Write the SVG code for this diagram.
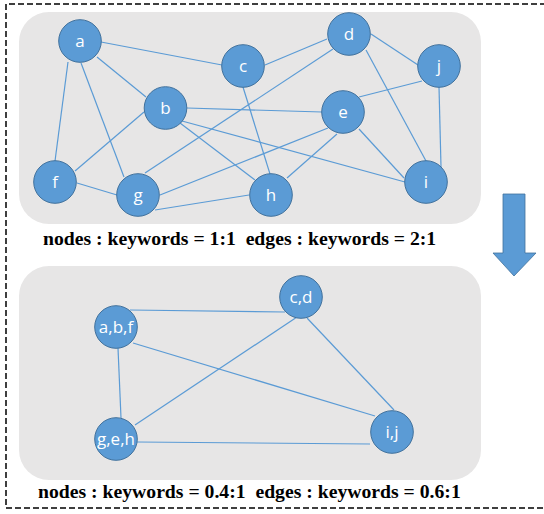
<svg xmlns="http://www.w3.org/2000/svg" width="544" height="514" viewBox="0 0 544 514">
<style>
.panel{fill:#E7E6E6;stroke:none}
.node circle{fill:#5B9BD5;stroke:#41719C;stroke-width:1}
.node text{fill:#ffffff;font-family:"Open Sans","Noto Sans",sans-serif;font-size:17px;text-anchor:middle}
.edges line{stroke:#5B9BD5;stroke-width:1.2}
.cap{font-family:"Liberation Serif","DejaVu Serif",serif;font-weight:bold;font-size:19.7px;fill:#000}
</style>
<rect width="544" height="514" fill="#ffffff"/>
<path d="M546 4 H6 V508 H546" fill="none" stroke="#000" stroke-width="1.5" stroke-dasharray="6 3"/>
<rect class="panel" x="19" y="12" width="462" height="212" rx="30"/>
<rect class="panel" x="19" y="266" width="462" height="214" rx="30"/>
<g id="connectors-top" class="edges">
<line x1="101" y1="42" x2="222" y2="65"/>
<line x1="97" y1="57" x2="146" y2="97"/>
<line x1="68" y1="62" x2="55" y2="161"/>
<line x1="81" y1="63" x2="124" y2="177"/>
<line x1="75" y1="171" x2="144" y2="112"/>
<line x1="77" y1="183" x2="117" y2="195"/>
<line x1="145" y1="173" x2="333" y2="49"/>
<line x1="160" y1="195" x2="328" y2="128"/>
<line x1="155" y1="210" x2="249" y2="195"/>
<line x1="187" y1="108" x2="322" y2="112"/>
<line x1="180" y1="123" x2="255" y2="180"/>
<line x1="182" y1="121" x2="405" y2="182"/>
<line x1="359" y1="129" x2="404" y2="178"/>
<line x1="243" y1="87" x2="270" y2="174"/>
<line x1="265" y1="65" x2="327" y2="39"/>
<line x1="371" y1="34" x2="418" y2="65"/>
<line x1="366" y1="50" x2="426" y2="161"/>
<line x1="359" y1="97" x2="422" y2="81"/>
<line x1="439" y1="87" x2="441" y2="167"/>
<line x1="337" y1="134" x2="287" y2="178"/>
</g>
<g id="connectors-bottom" class="edges">
<line x1="130" y1="310" x2="285" y2="312"/>
<line x1="133" y1="343" x2="375" y2="416"/>
<line x1="118" y1="348" x2="121" y2="418"/>
<line x1="135" y1="425" x2="297" y2="317"/>
<line x1="307" y1="318" x2="394" y2="410"/>
<line x1="137" y1="442" x2="370" y2="444"/>
</g>
<g id="node-a" class="node"><circle cx="80" cy="41" r="21.3"/><text x="80" y="47">a</text></g>
<g id="node-b" class="node"><circle cx="165.5" cy="108" r="21.3"/><text x="165.5" y="114">b</text></g>
<g id="node-c" class="node"><circle cx="243" cy="66" r="21.3"/><text x="243" y="72">c</text></g>
<g id="node-d" class="node"><circle cx="349" cy="34" r="21.3"/><text x="349" y="40">d</text></g>
<g id="node-j" class="node"><circle cx="439" cy="66" r="21.3"/><text x="439" y="72">j</text></g>
<g id="node-e" class="node"><circle cx="343" cy="112" r="21.3"/><text x="343" y="118">e</text></g>
<g id="node-f" class="node"><circle cx="55" cy="182" r="21.3"/><text x="55" y="188">f</text></g>
<g id="node-g" class="node"><circle cx="138" cy="195" r="21.3"/><text x="138" y="201">g</text></g>
<g id="node-h" class="node"><circle cx="271" cy="195" r="21.3"/><text x="271" y="201">h</text></g>
<g id="node-i" class="node"><circle cx="426" cy="182" r="21.3"/><text x="426" y="188">i</text></g>
<g id="node-abf" class="node"><circle cx="116" cy="327" r="21.3"/><text x="116" y="333">a,b,f</text></g>
<g id="node-geh" class="node"><circle cx="116" cy="439" r="21.3"/><text x="116" y="445">g,e,h</text></g>
<g id="node-cd" class="node"><circle cx="301" cy="297" r="21.3"/><text x="301" y="303">c,d</text></g>
<g id="node-ij" class="node"><circle cx="392" cy="432" r="21.3"/><text x="392" y="438">i,j</text></g>
<g id="arrow"><polygon points="503,194 525,194 525,253 536,253 514,276 493,253 503,253" fill="#5B9BD5" stroke="#41719C" stroke-width="0.8"/></g>
<text class="cap" x="43" y="245" xml:space="preserve">nodes : keywords = 1:1  edges : keywords = 2:1</text>
<text class="cap" x="38" y="498" xml:space="preserve">nodes : keywords = 0.4:1  edges : keywords = 0.6:1</text>
</svg>
